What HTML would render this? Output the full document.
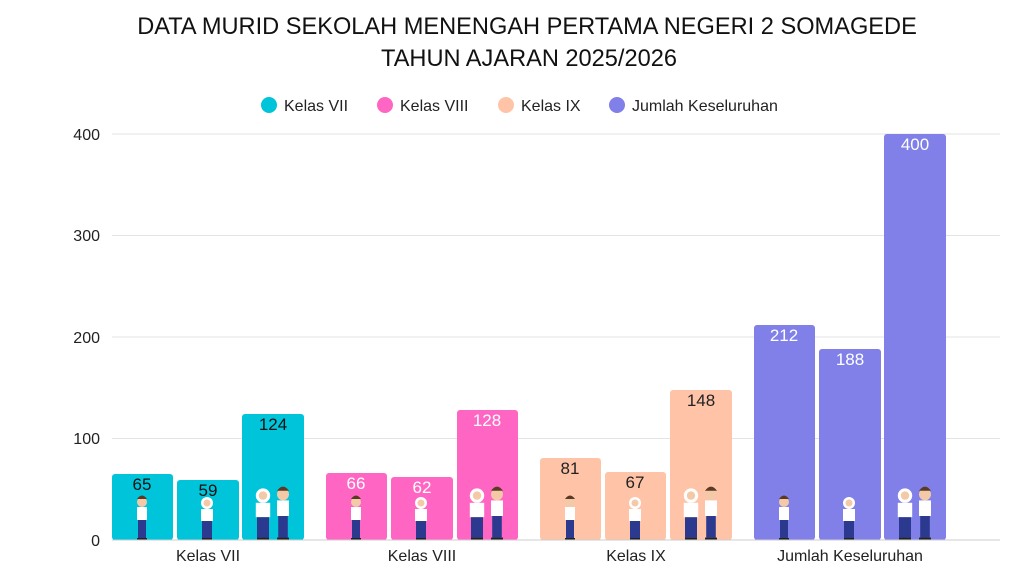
<!DOCTYPE html>
<html><head><meta charset="utf-8"><style>
body{margin:0;background:#fff;}
svg text{font-family:"Liberation Sans",sans-serif;}
</style></head><body>
<svg width="1024" height="576" xmlns="http://www.w3.org/2000/svg">
<defs>
<g id="boy"><circle cx="0" cy="-38" r="5" fill="#f3c9a8"/><path d="M-5,-41 q5,-7 10,0 z" fill="#5a3a22"/><rect x="-5" y="-33" width="10" height="13" fill="#fff"/><rect x="-4" y="-20" width="8" height="18" fill="#2b3a8f"/><rect x="-5" y="-2" width="10" height="2" fill="#222"/></g>
<g id="girl"><circle cx="0" cy="-37" r="6" fill="#fff"/><circle cx="0" cy="-37" r="3.5" fill="#f3c9a8"/><rect x="-6" y="-31" width="12" height="12" fill="#fff"/><rect x="-5" y="-19" width="10" height="17" fill="#2b3a8f"/><rect x="-5" y="-2" width="10" height="2" fill="#222"/></g>
<g id="pair"><use href="#girl" transform="translate(-10,0) scale(1.2)"/><use href="#boy" transform="translate(10,0) scale(1.2)"/></g>
</defs>
<text x="527" y="34" font-size="23.6" text-anchor="middle" fill="#111">DATA MURID SEKOLAH MENENGAH PERTAMA NEGERI 2 SOMAGEDE</text>
<text x="529" y="66" font-size="23.6" text-anchor="middle" fill="#111">TAHUN AJARAN 2025/2026</text>
<g font-size="16" fill="#222">
<circle cx="269" cy="105" r="8" fill="#00C4D9"/><text x="284" y="111">Kelas VII</text>
<circle cx="385" cy="105" r="8" fill="#FF66C4"/><text x="400" y="111">Kelas VIII</text>
<circle cx="506" cy="105" r="8" fill="#FFC4A8"/><text x="521" y="111">Kelas IX</text>
<circle cx="617" cy="105" r="8" fill="#8080E8"/><text x="632" y="111">Jumlah Keseluruhan</text>
</g>
<g stroke="#e3e3e3" stroke-width="1">
<line x1="112" x2="1000" y1="134" y2="134"/><line x1="112" x2="1000" y1="235.5" y2="235.5"/><line x1="112" x2="1000" y1="337" y2="337"/><line x1="112" x2="1000" y1="438.5" y2="438.5"/>
</g>
<g font-size="16" fill="#222" text-anchor="end">
<text x="100" y="140">400</text><text x="100" y="241">300</text><text x="100" y="343">200</text><text x="100" y="444">100</text><text x="100" y="546">0</text>
</g>
<g>
<rect x="112" y="474" width="61" height="66" rx="3" fill="#00C4D9"/>
<rect x="177" y="480" width="62" height="60" rx="3" fill="#00C4D9"/>
<rect x="242" y="414" width="62" height="126" rx="3" fill="#00C4D9"/>
<rect x="326" y="473" width="61" height="67" rx="3" fill="#FF66C4"/>
<rect x="391" y="477" width="62" height="63" rx="3" fill="#FF66C4"/>
<rect x="457" y="410" width="61" height="130" rx="3" fill="#FF66C4"/>
<rect x="540" y="458" width="61" height="82" rx="3" fill="#FFC4A8"/>
<rect x="605" y="472" width="61" height="68" rx="3" fill="#FFC4A8"/>
<rect x="670" y="390" width="62" height="150" rx="3" fill="#FFC4A8"/>
<rect x="754" y="325" width="61" height="215" rx="3" fill="#8080E8"/>
<rect x="819" y="349" width="62" height="191" rx="3" fill="#8080E8"/>
<rect x="884" y="134" width="62" height="406" rx="3" fill="#8080E8"/>
</g>
<g>
<use href="#boy" transform="translate(142,540)"/><use href="#girl" transform="translate(207,540)"/><use href="#pair" transform="translate(273,540)"/>
<use href="#boy" transform="translate(356,540)"/><use href="#girl" transform="translate(421,540)"/><use href="#pair" transform="translate(487,540)"/>
<use href="#boy" transform="translate(570,540)"/><use href="#girl" transform="translate(635,540)"/><use href="#pair" transform="translate(701,540)"/>
<use href="#boy" transform="translate(784,540)"/><use href="#girl" transform="translate(849,540)"/><use href="#pair" transform="translate(915,540)"/>
</g>
<line x1="112" x2="1000" y1="540" y2="540" stroke="#ccc"/>
<g font-size="17" text-anchor="middle">
<text x="142" y="490" fill="#111">65</text><text x="208" y="496" fill="#111">59</text><text x="273" y="430" fill="#111">124</text>
<text x="356" y="489" fill="#fff">66</text><text x="422" y="493" fill="#fff">62</text><text x="487" y="426" fill="#fff">128</text>
<text x="570" y="474" fill="#222">81</text><text x="635" y="488" fill="#222">67</text><text x="701" y="406" fill="#222">148</text>
<text x="784" y="341" fill="#fff">212</text><text x="850" y="365" fill="#fff">188</text><text x="915" y="150" fill="#fff">400</text>
</g>
<g font-size="16" fill="#222" text-anchor="middle">
<text x="208" y="561">Kelas VII</text><text x="422" y="561">Kelas VIII</text><text x="636" y="561">Kelas IX</text><text x="850" y="561">Jumlah Keseluruhan</text>
</g>
</svg>
</body></html>
